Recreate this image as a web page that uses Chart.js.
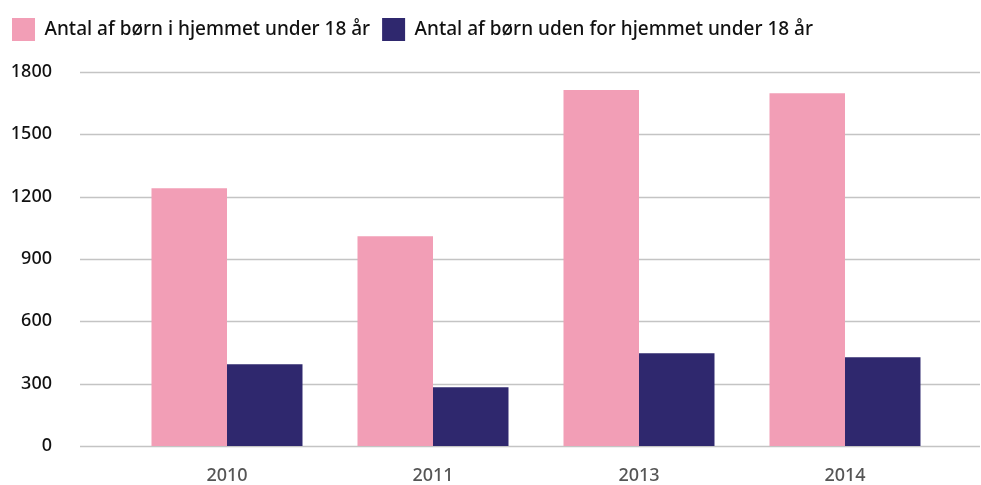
<!DOCTYPE html>
<html>
<head>
<meta charset="utf-8">
<script src="https://cdn.jsdelivr.net/npm/chart.js@4.4.1/dist/chart.umd.min.js"></script>
<style>
  html, body { margin: 0; padding: 0; background: #fff; overflow: hidden; }
</style>
</head>
<body>
<canvas id="boernChart" width="981" height="485"></canvas>
<script>
// data
var years = ["2010", "2011", "2013", "2014"];
var iHjemmet = [1240, 1010, 1713, 1698];
var udenForHjemmet = [393, 283, 446, 427];
var yTicks = [0, 300, 600, 900, 1200, 1500, 1800];

var fontFam = "'Noto Sans', 'Open Sans', sans-serif";

// horizontal grid lines, a bit wider than the bars' area
var gridLines = {
  id: 'gridLines',
  beforeDatasetsDraw: function(chart) {
    var ctx = chart.ctx, y = chart.scales.y;
    ctx.save();
    ctx.strokeStyle = '#c4c4c4';
    ctx.lineWidth = 1.3;
    yTicks.forEach(function(v) {
      var py = Math.round(y.getPixelForValue(v)) + 0.5;
      ctx.beginPath();
      ctx.moveTo(80, py);
      ctx.lineTo(980, py);
      ctx.stroke();
    });
    ctx.restore();
  }
};

var ctx = document.getElementById("boernChart").getContext("2d");
var barChart = new Chart(ctx, {
  type: 'bar',
  data: {
    labels: years,
    datasets: [{
      label: 'Antal af børn i hjemmet under 18 år',
      data: iHjemmet,
      backgroundColor: '#f29eb6'
    }, {
      label: 'Antal af børn uden for hjemmet under 18 år',
      data: udenForHjemmet,
      backgroundColor: '#2f286e'
    }]
  },
  options: {
    responsive: false,
    animation: false,
    layout: { padding: { left: 0, right: 33, top: 4, bottom: 0 } },
    datasets: { bar: { categoryPercentage: 0.733, barPercentage: 1.0 } },
    plugins: {
      tooltip: { enabled: false },
      // empty title used only as a spacer between legend and plot
      title: {
        display: true,
        text: '',
        weight: 500,
        font: { size: 10, lineHeight: 1 },
        padding: { top: 0, bottom: 11 }
      },
      legend: {
        position: 'top',
        align: 'start',
        labels: {
          boxWidth: 23,
          boxHeight: 23,
          padding: 12,
          color: '#111',
          font: { family: fontFam, size: 19, weight: 500 }
        }
      }
    },
    scales: {
      x: {
        grid: { display: false },
        border: { display: false },
        ticks: { color: '#555', padding: 11, font: { family: fontFam, size: 18, weight: 500 } },
        afterFit: function(s) { s.height = 39; }
      },
      y: {
        min: 0,
        max: 1800,
        grid: { display: false },
        border: { display: false },
        afterBuildTicks: function(s) { s.ticks = yTicks.map(function(v) { return { value: v }; }); },
        ticks: {
          color: '#111',
          padding: 64,
          font: { family: fontFam, size: 18, weight: 500 },
          callback: function(v) { return String(v); }
        },
        afterFit: function(s) { s.width = 124; s.paddingTop = 72; s.paddingBottom = 0; }
      }
    }
  },
  plugins: [gridLines]
});
</script>
</body>
</html>
